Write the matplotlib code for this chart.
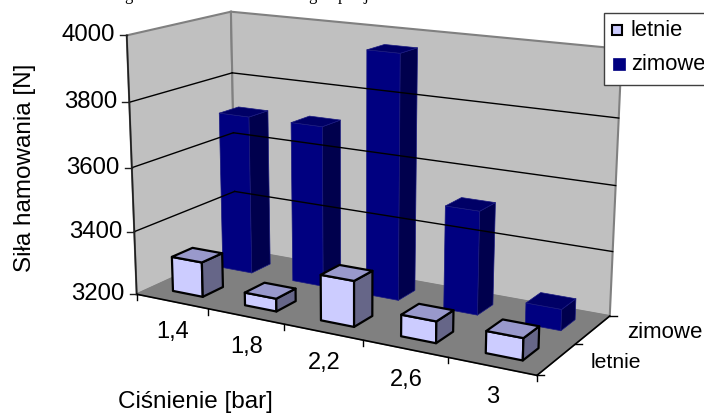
import numpy as np
from matplotlib import pyplot as plt
from matplotlib.patches import Polygon, Rectangle

plt.rcParams['font.family'] = ['Liberation Sans', 'DejaVu Sans']

# chart data
categories = ["1,4", "1,8", "2,2", "2,6", "3"]
series = ["letnie", "zimowe"]
letnie = [3310, 3240, 3340, 3265, 3265]
zimowe = [3710, 3710, 3960, 3520, 3265]
z_ticks = [3200, 3400, 3600, 3800, 4000]

Z_MIN, Z_MAX = 3200, 4000
BAR_W = 0.42
BAR_D = 0.40

# frame corners as (category pos, series pos, value) -> pixel, used to fit the perspective
calib = [((0, 0, 3200), (137, 295)),
         ((5, 0, 3200), (537, 377)),
         ((5, 2, 3200), (610, 316)),
         ((0, 2, 3200), (236, 251)),
         ((0, 0, 4000), (127, 37)),
         ((0, 2, 4000), (231, 13)),
         ((5, 2, 4000), (622, 50)),
         ((0, 0, 3800), (129, 103)),
         ((0, 2, 3800), (232, 73)),
         ((5, 2, 3800), (619, 119)),
         ((0, 0, 3400), (134, 232)),
         ((5, 2, 3400), (612, 253))]


def fit_projection(pairs):
    rows = []
    for (x, y, z), (u, v) in pairs:
        w = (z - Z_MIN) / 200
        rows.append([x, y, w, 1, 0, 0, 0, 0, -u * x, -u * y, -u * w, -u])
        rows.append([0, 0, 0, 0, x, y, w, 1, -v * x, -v * y, -v * w, -v])
    _, _, vt = np.linalg.svd(np.array(rows, dtype=float))
    return vt[-1].reshape(3, 4)


P = fit_projection(calib)


def proj(x, y, z):
    p = P @ np.array([x, y, (z - Z_MIN) / 200, 1.0])
    return p[0] / p[2], p[1] / p[2]


def quad(ax, pts, **kw):
    ax.add_patch(Polygon([proj(*p) for p in pts], closed=True, **kw))


def line3(ax, a, b, **kw):
    pa, pb = proj(*a), proj(*b)
    ax.plot([pa[0], pb[0]], [pa[1], pb[1]], **kw)


def draw_bar(ax, i, j, value, front, top, side, edge, lw):
    x0, x1 = i + 0.5 - BAR_W / 2, i + 0.5 + BAR_W / 2
    y0, y1 = j + 0.5 - BAR_D / 2, j + 0.5 + BAR_D / 2
    kw = dict(edgecolor=edge, linewidth=lw, joinstyle="round")
    quad(ax, [(x0, y0, Z_MIN), (x1, y0, Z_MIN), (x1, y0, value), (x0, y0, value)], facecolor=front, **kw)
    quad(ax, [(x1, y0, Z_MIN), (x1, y1, Z_MIN), (x1, y1, value), (x1, y0, value)], facecolor=side, **kw)
    quad(ax, [(x0, y0, value), (x1, y0, value), (x1, y1, value), (x0, y1, value)], facecolor=top, **kw)


fig = plt.figure(figsize=(7.04, 4.14), dpi=100)
ax = fig.add_axes([0, 0, 1, 1])
ax.set_xlim(0, 704)
ax.set_ylim(414, 0)
ax.axis("off")

# walls and floor
wall = dict(facecolor="#C0C0C0", edgecolor="#808080", linewidth=1.5)
quad(ax, [(0, 0, 3200), (0, 2, 3200), (0, 2, 4000), (0, 0, 4000)], **wall)
quad(ax, [(0, 2, 3200), (5, 2, 3200), (5, 2, 4000), (0, 2, 4000)], **wall)
quad(ax, [(0, 0, 3200), (5, 0, 3200), (5, 2, 3200), (0, 2, 3200)], facecolor="#808080", edgecolor="#808080", linewidth=1)

# gridlines
for z in z_ticks[1:-1]:
    line3(ax, (0, 0, z), (0, 2, z), color="black", lw=1)
    line3(ax, (0, 2, z), (5, 2, z), color="black", lw=1)

# front axis lines and ticks
line3(ax, (0, 0, 3200), (0, 0, 4000), color="#202020", lw=1.2)
line3(ax, (0, 0, 3200), (5, 0, 3200), color="black", lw=1.2)
line3(ax, (5, 0, 3200), (5, 2, 3200), color="black", lw=1.2)
for z in z_ticks:
    u, v = proj(0, 0, z)
    ax.plot([u - 7, u], [v, v], color="#202020", lw=1)
    ax.text(u - 12, v - 1, str(z), ha="right", va="center", fontsize=17.3)
for i in range(6):
    u, v = proj(i, 0, 3200)
    ax.plot([u, u], [v, v + 6], color="black", lw=1)
for j in range(3):
    u, v = proj(5, j, 3200)
    ax.plot([u, u + 7], [v, v], color="black", lw=1)

# bars, back row first
for i, val in enumerate(zimowe):
    draw_bar(ax, i, 1, val, "#000080", "#000066", "#00004D", "#1A1A80", 0.5)
for i, val in enumerate(letnie):
    draw_bar(ax, i, 0, val, "#CCCCFF", "#9999CC", "#666688", "black", 1.6)

# category and series labels
for i, lab in enumerate(categories):
    u, v = proj(i + 0.5, 0, 3200)
    ax.text(u + 1, v + 30, lab, ha="center", va="center", fontsize=17)
for j, lab, size in zip(range(2), series, [15.2, 16]):
    u, v = proj(5, j + 0.5, 3200)
    ax.text(u + 34, v + 2, lab, ha="left", va="center", fontsize=size)

ax.text(195, 402, "Ciśnienie [bar]", ha="center", va="center", fontsize=17.5)
ax.text(25, 168, "Siła hamowania [N]", ha="center", va="center", rotation=90, fontsize=17.5)

# legend box
ax.add_patch(Rectangle((604, 14), 110, 72, facecolor="white", edgecolor="#404040", lw=1, zorder=5))
ax.add_patch(Rectangle((612, 26), 10, 10, facecolor="#CCCCFF", edgecolor="black", lw=1.5, zorder=6))
ax.add_patch(Rectangle((613, 59), 12, 12, facecolor="#000080", edgecolor="#000080", lw=0.5, zorder=6))
ax.text(631, 30, series[0], ha="left", va="center", fontsize=15.8, zorder=6)
ax.text(631, 64, series[1], ha="left", va="center", fontsize=15.8, zorder=6)

# caption line cut off by the top of the image, only descenders show
for x, ch in [(124, "g"), (308, "g"), (338, "p"), (363, "j")]:
    ax.text(x, 0, ch, ha="left", va="baseline", fontsize=12, family="Liberation Serif", clip_on=True)

fig.savefig("out.png", dpi=100)
